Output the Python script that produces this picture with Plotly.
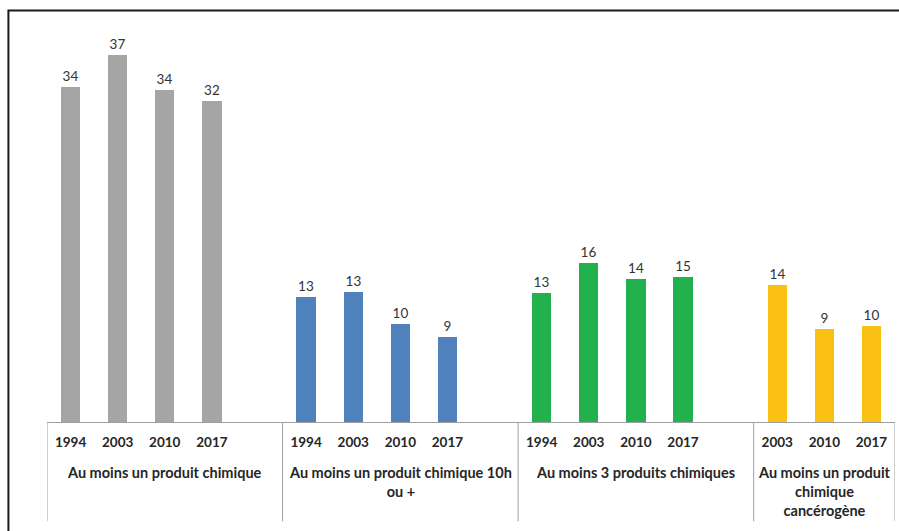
"""
Exposition aux produits chimiques — bar chart grouped by indicator and year.
"""
import plotly.graph_objects as go

# --- data --------------------------------------------------------------
groups = [
    "Au moins un produit chimique",
    "Au moins un produit chimique 10h<br>ou +",
    "Au moins 3 produits chimiques",
    "Au moins un produit<br>chimique<br>cancérogène",
]
years = [
    ["1994", "2003", "2010", "2017"],
    ["1994", "2003", "2010", "2017"],
    ["1994", "2003", "2010", "2017"],
    ["2003", "2010", "2017"],
]
# bar heights (labels show them rounded)
values = [
    [33.8, 37.0, 33.5, 32.3],
    [12.6, 13.1, 9.9, 8.6],
    [13.0, 16.0, 14.4, 14.6],
    [13.8, 9.4, 9.7],
]
colors = ["#A5A5A5", "#4F81BD", "#22B14C", "#FBC014"]

FONT = "Lato"
TXT = "#262626"

# each group takes its bars plus one empty slot (except the last group)
fig = go.Figure()
tickvals, ticktext, bounds = [], [], [-0.5]
pos = 0
for i, (g, yrs, vals) in enumerate(zip(groups, years, values)):
    xs = list(range(pos, pos + len(vals)))
    fig.add_trace(go.Bar(
        x=xs, y=vals,
        marker=dict(color=colors[i], line=dict(width=0)),
        width=0.41,
        texttemplate="%{y:.0f}",
        textposition="outside",
        textfont=dict(family=FONT, size=13.5, color="#333333"),
        cliponaxis=False,
        showlegend=False,
        hoverinfo="skip",
    ))
    tickvals += xs
    ticktext += yrs
    pos += len(vals) + (1 if i < len(groups) - 1 else 0)
    bounds.append(pos - 0.5)

x_max = bounds[-1]

shapes = []
# group separators below the axis
for b in bounds:
    shapes.append(dict(type="line", xref="x", yref="paper",
                       x0=b, x1=b, y0=0, y1=-0.25,
                       line=dict(color="#A0A0A0", width=1)))
# outer frame
shapes.append(dict(type="rect", xref="paper", yref="paper",
                   x0=-0.0455, x1=1.02, y0=-0.32, y1=1.0365,
                   line=dict(color="#1A1A1A", width=2)))

annotations = []
for i, g in enumerate(groups):
    mid = (bounds[i] + bounds[i + 1]) / 2
    annotations.append(dict(
        x=mid, y=-0.1, xref="x", yref="paper",
        text=f"<b>{g}</b>", showarrow=False,
        yanchor="top", xanchor="center", align="center",
        font=dict(family=FONT, size=14.5, color=TXT),
    ))

fig.update_xaxes(
    range=[-0.5, x_max], tickvals=tickvals, ticktext=[f"<b>{t}</b>" for t in ticktext],
    tickfont=dict(family=FONT, size=13.5, color=TXT),
    showline=True, linecolor="#A0A0A0", linewidth=1,
    ticks="outside", ticklen=8, tickcolor="rgba(0,0,0,0)",
    showgrid=False, zeroline=False, fixedrange=True,
)
fig.update_yaxes(range=[0, 40], visible=False, showgrid=False, fixedrange=True)

fig.update_layout(
    width=899, height=531,
    margin=dict(l=47, r=4, t=25, b=109),
    paper_bgcolor="white", plot_bgcolor="white",
    bargap=0, shapes=shapes, annotations=annotations,
    font=dict(family=FONT, color=TXT),
)

fig.write_html(
    "out.html",
    config={"displayModeBar": False},
    post_script="document.body.style.margin='0';document.body.style.overflow='hidden';",
)
